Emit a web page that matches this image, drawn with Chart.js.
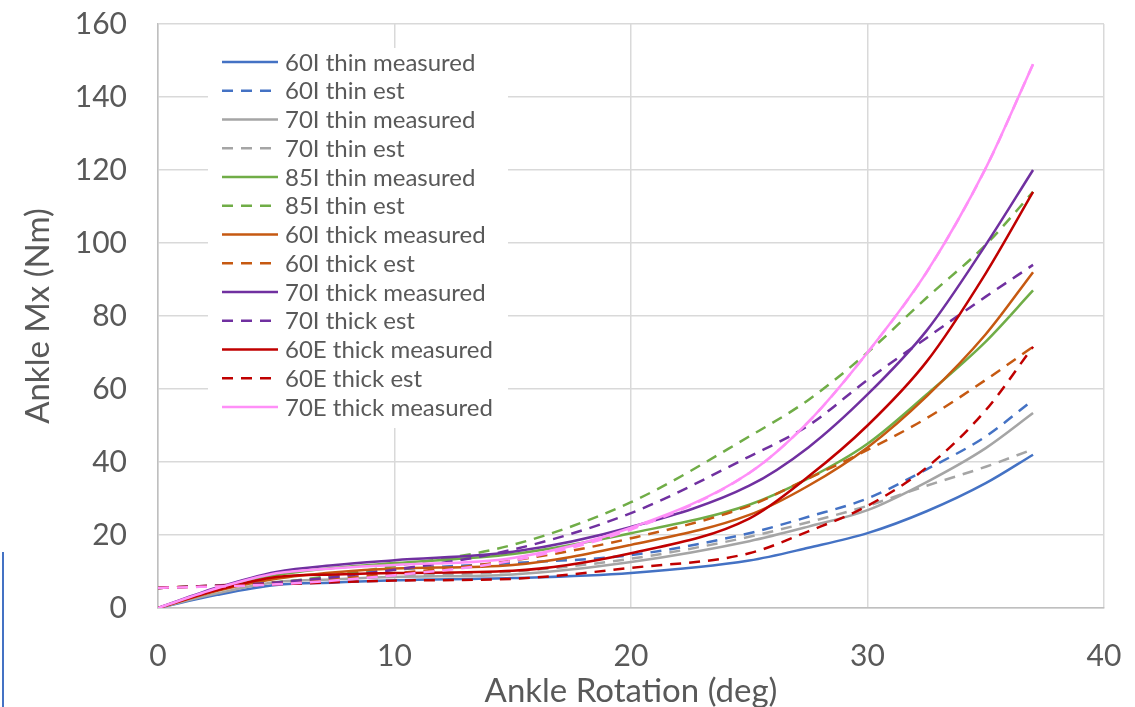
<!DOCTYPE html>
<html>
<head>
<meta charset="utf-8">
<script src="https://cdn.jsdelivr.net/npm/chart.js@4.4.1/dist/chart.umd.min.js"></script>
<style>
  html, body { margin: 0; padding: 0; background: #fff; overflow: hidden; }
  #wrap { position: relative; width: 1135px; height: 707px; }
  #edge { position: absolute; left: 2px; top: 552px; width: 2px; height: 155px; background: #4472c4; }
</style>
</head>
<body>
<div id="wrap">
  <canvas id="ankleChart"></canvas>
  <div id="edge"></div>
</div>
<script>
// ankle rotation (deg) where the curves were read
const xMeasured = [0, 2.5, 5, 7.5, 10, 15, 20, 25, 27.5, 30, 32.5, 35, 37];
const xEst = [0, 5, 10, 15, 20, 25, 27.5, 30, 32.5, 35, 37];

// measured moments (Nm)
const thin60I = [0, 3.6, 6.3, 7.0, 7.6, 8.2, 9.6, 13, 16.5, 20.5, 26.5, 34.2, 42];
const thin70I = [0, 4.0, 7.1, 7.9, 8.5, 9.2, 12.6, 18.3, 22.3, 26.8, 34.5, 43.8, 53.4];
const thin85I = [0, 5.2, 9, 11, 12.3, 14.8, 20.5, 28.3, 35.5, 45, 58.5, 73, 87];
const thick60I = [0, 4.7, 8, 9.8, 10.8, 11.8, 17.3, 25.5, 33.5, 44, 58, 75, 92];
const thick70I = [0, 5.6, 9.9, 11.8, 13.1, 15.4, 22.2, 33.5, 44, 58.5, 76, 99.5, 120];
const thick60E = [0, 4.9, 8.5, 9.2, 9.6, 10.2, 15, 24.5, 36, 50, 67.5, 91.7, 114];
const thick70E = [0, 5.4, 9.5, 10.9, 11.8, 13.7, 22, 37, 51, 70, 92, 120.5, 149];

// estimated moments (Nm)
const thin60IEst = [5.5, 7, 10.5, 12.3, 14.5, 20.5, 25, 30, 38, 47, 57];
const thin70IEst = [5.5, 6.8, 8.8, 10, 13.5, 19.5, 23.5, 28, 33.5, 38.7, 43.5];
const thin85IEst = [5.5, 7, 11.5, 17.3, 29, 47, 57, 70, 85, 99.5, 114];
const thick60IEst = [5.5, 7, 9.5, 13, 19.1, 28, 35.5, 43.3, 52, 62.5, 71.6];
const thick70IEst = [5.5, 7, 10.5, 16, 26, 41.5, 50, 62.5, 74, 85.3, 94];
const thick60EEst = [5.5, 6.5, 7.5, 8, 11, 15, 21, 28, 38.5, 54.2, 71.6];
const thick70EEst = [5.5, 6.5, 9, 13, 21.5, 37, 51, 70, 92, 120.5, 149];

const yTicks = [0, 20, 40, 60, 80, 100, 120, 140, 160];
const xTicks = [0, 10, 20, 30, 40];

const blue = '#4472C4', grey = '#A5A5A5', green = '#70AD47',
      orange = '#C65911', purple = '#7030A0', red = '#C00000', pink = '#FF8FF8';

function series(label, xs, ys, color, dashed, inLegend = true) {
    return {
        label: label,
        data: xs.map((x, i) => ({ x: x, y: ys[i] })),
        borderColor: color,
        backgroundColor: color,
        borderWidth: 2.5,
        borderDash: dashed ? [11, 8] : [],
        pointRadius: 0,
        cubicInterpolationMode: 'monotone',
        fill: false,
        inLegend: inLegend
    };
}

const datasets = [
    series('60I thin measured', xMeasured, thin60I, blue, false),
    series('60I thin est', xEst, thin60IEst, blue, true),
    series('70I thin measured', xMeasured, thin70I, grey, false),
    series('70I thin est', xEst, thin70IEst, grey, true),
    series('85I thin measured', xMeasured, thin85I, green, false),
    series('85I thin est', xEst, thin85IEst, green, true),
    series('60I thick measured', xMeasured, thick60I, orange, false),
    series('60I thick est', xEst, thick60IEst, orange, true),
    series('70I thick measured', xMeasured, thick70I, purple, false),
    series('70I thick est', xEst, thick70IEst, purple, true),
    series('60E thick measured', xMeasured, thick60E, red, false),
    series('60E thick est', xEst, thick60EEst, red, true),
    series('70E thick measured', xMeasured, thick70E, pink, false),
    series('70E thick est', xEst, thick70EEst, pink, true, false)
];
// later series on top, like the spreadsheet
datasets.forEach((d, i) => d.order = -i);

// legend drawn inside the plot area
const insideLegend = {
    id: 'insideLegend',
    beforeDatasetsDraw(chart) {
        const ctx = chart.ctx;
        const area = chart.chartArea;
        const left = area.left + 50;
        const top = area.top + 24;
        const rowH = 28.75;
        ctx.save();
        ctx.fillStyle = '#ffffff';
        ctx.fillRect(left, top, 300, 380);
        ctx.font = '24px Lato';
        ctx.textBaseline = 'middle';
        let row = 0;
        chart.data.datasets.forEach(ds => {
            if (!ds.inLegend) return;
            const y = top + 14 + row * rowH;
            ctx.strokeStyle = ds.borderColor;
            ctx.lineWidth = 2.5;
            ctx.setLineDash(ds.borderDash);
            ctx.beginPath();
            ctx.moveTo(left + 14, y);
            ctx.lineTo(left + 70, y);
            ctx.stroke();
            ctx.setLineDash([]);
            ctx.fillStyle = '#595959';
            ctx.fillText(ds.label, left + 77, y + 1);
            row++;
        });
        ctx.restore();
    }
};

// keep the plot area where the reference has it
function noOverflow(scale) {
    scale.paddingTop = 0;
    scale.paddingBottom = 0;
    scale.paddingLeft = 0;
    scale.paddingRight = 0;
}

Chart.defaults.font.family = 'Lato';
Chart.defaults.color = '#595959';

new Chart(document.getElementById('ankleChart').getContext('2d'), {
    type: 'line',
    data: { datasets: datasets },
    options: {
        responsive: true,
        maintainAspectRatio: false,
        animation: false,
        layout: { padding: { left: 0, top: 24, right: 31, bottom: 0 } },
        plugins: {
            legend: { display: false },
            tooltip: { enabled: false }
        },
        scales: {
            x: {
                type: 'linear',
                min: 0,
                max: 40,
                afterBuildTicks: scale => { scale.ticks = xTicks.map(v => ({ value: v })); },
                afterFit: scale => { scale.height = 99; noOverflow(scale); },
                grid: { color: '#d9d9d9', lineWidth: 1.5, drawTicks: false },
                border: { color: '#bfbfbf', width: 1.5 },
                ticks: { font: { size: 30 }, padding: 30, maxRotation: 0 },
                title: {
                    display: true,
                    text: 'Ankle Rotation (deg)',
                    font: { size: 33, lineHeight: 1 },
                    padding: { top: 0, bottom: -1 }
                }
            },
            y: {
                min: 0,
                max: 160,
                afterBuildTicks: scale => { scale.ticks = yTicks.map(v => ({ value: v })); },
                afterFit: scale => { scale.width = 158; noOverflow(scale); },
                grid: { color: '#d9d9d9', lineWidth: 1.5, drawTicks: false },
                border: { color: '#bfbfbf', width: 1.5 },
                ticks: { font: { size: 30 }, padding: 31 },
                title: {
                    display: true,
                    text: 'Ankle Mx (Nm)',
                    font: { size: 33, lineHeight: 1 },
                    padding: { top: 22, bottom: 0 }
                }
            }
        }
    },
    plugins: [insideLegend]
});
</script>
</body>
</html>
